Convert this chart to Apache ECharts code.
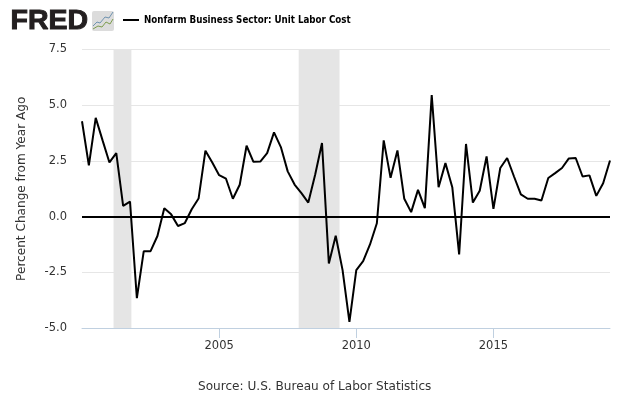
<!DOCTYPE html>
<html><head><meta charset="utf-8">
<style>html,body{margin:0;padding:0;background:#fff}#c{width:630px;height:396px}</style>
<script src="https://cdn.jsdelivr.net/npm/echarts@6/dist/echarts.min.js"></script>
</head><body><div id="c"></div>
<script>
const seriesName = 'Nonfarm Business Sector: Unit Labor Cost';
const yAxisTitle = 'Percent Change from Year Ago';
const sourceText = 'Source: U.S. Bureau of Labor Statistics';
const startYear = 2000;
const laborCost = [4.28,2.30,4.43,3.42,2.43,2.85,0.48,0.67,-3.66,-1.56,-1.55,-0.87,0.37,0.10,-0.42,-0.29,0.33,0.81,2.96,2.43,1.86,1.70,0.80,1.43,3.18,2.46,2.47,2.85,3.78,3.12,2.03,1.44,1.05,0.63,1.88,3.30,-2.10,-0.86,-2.40,-4.73,-2.40,-2.00,-1.25,-0.30,3.42,1.74,2.97,0.80,0.20,1.20,0.38,5.45,1.32,2.40,1.32,-1.70,3.26,0.63,1.16,2.70,0.35,2.18,2.63,1.80,1.00,0.80,0.80,0.72,1.73,1.95,2.18,2.61,2.63,1.80,1.85,0.93,1.50,2.52];
const recessions = [[2001.15,2001.80],[2007.90,2009.39]];
const xTicks = [2005,2010,2015];
const points = laborCost.map((v,i)=>[startYear+i/4, v]);
const chart = echarts.init(document.getElementById('c'),null,{renderer:'canvas'});
chart.setOption({
  animation:false,
  backgroundColor:'#fff',
  textStyle:{fontFamily:'DejaVu Sans'},
  grid:{left:82,right:20,top:49.5,height:278.5,containLabel:false},
  legend:{
    left:118,top:10,icon:'rect',itemWidth:16,itemHeight:2,itemGap:5,
    textStyle:{fontFamily:'DejaVu Sans Condensed, DejaVu Sans',fontWeight:'bold',fontSize:9.7,color:'#000'},
    data:[seriesName]
  },
  xAxis:{
    type:'value',min:startYear,max:2019.25,interval:5,
    axisLine:{onZero:false,lineStyle:{color:'#c0d0e0',width:1}},
    axisTick:{show:false},
    splitLine:{show:false},
    axisLabel:{color:'#333',fontSize:11.5,margin:12,formatter:v=>xTicks.includes(v)?String(v):''}
  },
  yAxis:{
    type:'value',min:-5,max:7.5,interval:2.5,
    name:yAxisTitle,nameLocation:'middle',nameGap:54,
    nameTextStyle:{color:'#333',fontSize:12.1},
    axisLine:{show:false},axisTick:{show:false},
    splitLine:{lineStyle:{color:'#e6e6e6',width:1}},
    axisLabel:{color:'#333',fontSize:11.5,margin:15,padding:[4,0,0,0],formatter:v=>v.toFixed(1)}
  },
  series:[{
    name:seriesName,type:'line',data:points,showSymbol:false,symbol:'none',
    lineStyle:{color:'#000',width:2},itemStyle:{color:'#000'},clip:true,z:5,
    markArea:{silent:true,itemStyle:{color:'#e5e5e5'},data:recessions.map(r=>[{xAxis:r[0]},{xAxis:r[1]}])},
    markLine:{silent:true,symbol:'none',label:{show:false},lineStyle:{color:'#000',width:2,type:'solid'},data:[{yAxis:0}]}
  }]
});
// logo, source note and x-axis tick marks (ticks placed through the chart's own scale)
const baseY = Math.round(chart.convertToPixel({yAxisIndex:0}, -5));
const tickMarks = xTicks.map(v=>({
  type:'rect',z:50,
  shape:{x:Math.round(chart.convertToPixel({xAxisIndex:0}, v)),y:baseY,width:1,height:10},
  style:{fill:'#c0d0e0'}
}));
chart.setOption({graphic:[
  {type:'text',left:10,top:6,style:{text:'FRED',fontFamily:'Liberation Sans',fontWeight:'bold',fontSize:28.5,fill:'#231f20',stroke:'#231f20',lineWidth:1}},
  {type:'rect',shape:{x:92,y:11,width:22,height:20,r:2},style:{fill:'#dcdcdc'}},
  {type:'polyline',shape:{points:[[93,26],[97,22],[100,23],[105,17],[109,18],[113,12]]},style:{stroke:'#6f93b0',fill:null,lineWidth:1}},
  {type:'polyline',shape:{points:[[93,29],[98,26],[102,27],[106,22],[110,24],[113,19]]},style:{stroke:'#7d9c4e',fill:null,lineWidth:1}},
  {type:'text',left:198,top:381,style:{text:sourceText,fontFamily:'DejaVu Sans',fontSize:12.1,fill:'#333'}},
  ...tickMarks
]});
</script></body></html>
